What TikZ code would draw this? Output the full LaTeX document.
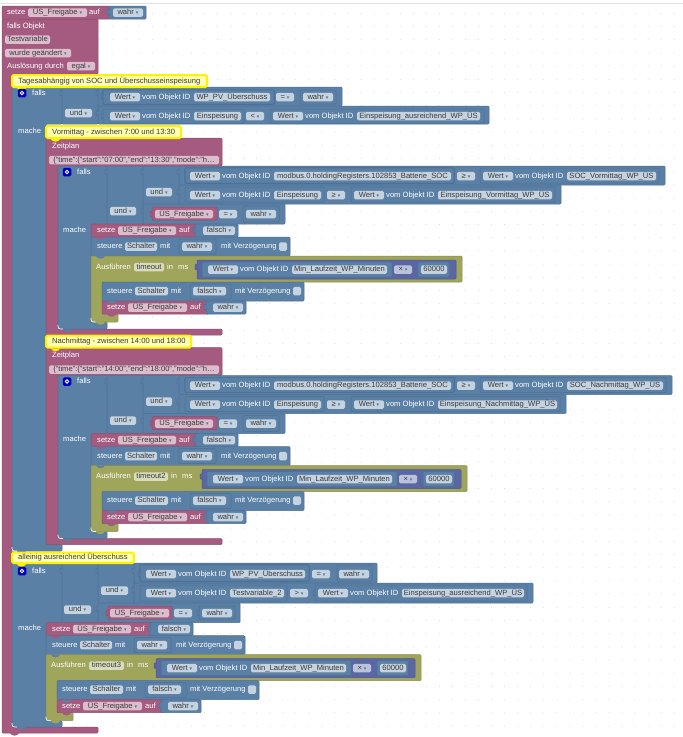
\documentclass[tikz,border=0pt]{standalone}
\usepackage{fontspec}
\setmainfont{Liberation Sans}
\newfontfamily\dropfont{DejaVu Sans}
\definecolor{blockblue}{HTML}{5B80A5}
\definecolor{lineblue}{HTML}{4C6F94}
\definecolor{chipblue}{HTML}{C5D2DF}
\definecolor{blockred}{HTML}{A55B80}
\definecolor{linered}{HTML}{8E4E6E}
\definecolor{chipred}{HTML}{DBBDCC}
\definecolor{blockolive}{HTML}{9FA55B}
\definecolor{lineolive}{HTML}{888E4E}
\definecolor{chipolive}{HTML}{D9DBBD}
\definecolor{blockpurple}{HTML}{5B67A5}
\definecolor{linepurple}{HTML}{4E588E}
\definecolor{chippurple}{HTML}{BDC2DB}
\definecolor{commentfill}{HTML}{FFFFB0}
\definecolor{chiptext}{HTML}{3A3A3A}
\tikzstyle{field} = [rounded corners=1.5pt, inner sep=0pt, minimum height=8.5pt,
    text=chiptext, text height=5.5pt, text depth=1.5pt]
\tikzstyle{fieldblue} = [field, fill=chipblue]
\tikzstyle{fieldred} = [field, fill=chipred]
\tikzstyle{fieldolive} = [field, fill=chipolive]
\tikzstyle{fieldpurple} = [field, fill=chippurple]
\tikzstyle{lab} = [anchor=west, inner sep=0pt, text=white, text height=5.5pt, text depth=1.5pt]
\tikzstyle{notelab} = [lab, text=chiptext]
\tikzstyle{bluebk} = [fill=blockblue, draw=lineblue, line width=.5pt, rounded corners=1pt]
\tikzstyle{redbk} = [fill=blockred, draw=linered, line width=.5pt, rounded corners=1pt]
\tikzstyle{olivebk} = [fill=blockolive, draw=lineolive, line width=.5pt, rounded corners=1pt]
\tikzstyle{purplebk} = [fill=blockpurple, draw=linepurple, line width=.5pt, rounded corners=1pt]
\tikzstyle{notebk} = [fill=commentfill, draw=yellow, line width=2pt, rounded corners=1.5pt]
\tikzstyle{gearbox} = [fill=blue!75!black, rounded corners=1.5pt, minimum size=8.5pt, inner sep=0pt]
\tikzstyle{corner} = [white, line width=.6pt]
\newcommand{\drop}{\kern2pt{\fontsize{5}{5}\dropfont\textcolor{lineblue}{▾}}}
\newcommand{\chip}[6][fieldblue]{\node [#1, minimum width={#4-(#3)}] (#2) at ({(#3+#4)/2},#5) {#6};}
\newcommand{\lab}[4]{\node [lab] (#1) at (#2,#3) {#4};}
\newcommand{\notch}[3]{\fill [#1] ({#2+5},#3) .. controls ({#2+6},{#3+3.5}) and ({#2+13},{#3+3.5}) .. ({#2+14},#3) -- cycle;}
\newcommand{\tab}[3][bluebk]{\draw [#1, rounded corners=0pt] (#2,{#3-3}) -- ++(-2,1) -- ++(0,4) -- ++(2,1);}
\newcommand{\corner}[2]{\draw [corner] (#1,{#2-4}) -- (#1,{#2-2.5}) .. controls (#1,{#2-1}) and ({#1+1},#2) .. ({#1+2.5},#2) -- ({#1+5},#2);}
\newcommand{\wertid}[5]{%
  \chip{#1wert}{#2}{#2+30}{#3}{Wert\drop}
  \lab{#1lab}{#2+32}{#3}{vom Objekt ID}
  \chip{#1id}{#2+84}{#5}{#3}{#4}}
\newcommand{\note}[6]{%
  \draw [notebk] (#2,#4) rectangle (#3,#5);
  \notch{yellow}{#2}{#5+1}
  \node [notelab] (#1) at ({#2+6},{(#4+#5)/2}) {#6};}
\newcommand{\gear}[3]{%
  \node [gearbox] (#1) at (#2,#3) {};
  \draw [white, line width=.9pt] (#1) circle (1.8pt);}
% Zeitplan block: comment, head and its bar
\newcommand{\zeitkopf}[4]{%
  \draw [redbk] (46,138) -- (222,138) -- (222,166) -- (58,166) -- (58,329) -- (222,329)
    -- (222,335) -- (46,335) -- cycle;
  \notch{blockblue}{58}{329}
  \note{#1note}{46}{#2}{126}{138}{#3}
  \lab{#1zeit}{52}{146}{Zeitplan}
  \chip[fieldred]{#1time}{49}{219}{160}{#4}}
% if block with the three conditions
\newcommand{\zeitbedingung}[5]{%
  \draw [bluebk] (58,166) -- (107,166) -- (107,224) -- (91,224) -- (91,322) -- (107,322)
    -- (107,329) -- (58,329) -- cycle;
  \corner{58}{329}
  \draw [bluebk] (107,166) rectangle (143,224);
  \draw [bluebk] (143,166) rectangle (179,204);
  \draw [bluebk] (179,166) rectangle ({#3+9},185);
  \draw [bluebk] (179,185) rectangle ({#5+9},204);
  \draw [bluebk] (143,204) rectangle (285,224);
  \gear{#1gear}{67}{172}
  \lab{#1falls}{77}{172}{falls}
  \lab{#1mache}{63}{230}{mache}
  \chip{#1undA}{110}{136}{211}{und\drop}
  \chip{#1undB}{146}{172}{192}{und\drop}
  \foreach \tx/\ty in {107/172,143/172,179/172,179/192,143/211,483/176,354/195}
    \tab{\tx}{\ty}
  \draw [bluebk] (185,168) rectangle (454,183);
  \wertid{#1a}{190}{176}{modbus.0.holdingRegisters.102853\_Batterie\_SOC}{451}
  \chip{#1geA}{457}{475}{176}{≥\drop}
  \draw [bluebk] (480,168) rectangle ({#3+3},183);
  \wertid{#1b}{483}{176}{#2}{#3}
  \draw [bluebk] (185,187) rectangle (324,202);
  \wertid{#1c}{190}{195}{Einspeisung}{321}
  \chip{#1geB}{327}{345}{195}{≥\drop}
  \draw [bluebk] (351,187) rectangle ({#5+3},202);
  \wertid{#1d}{354}{195}{#4}{#5}
  \tab[redbk]{152}{214}
  \draw [redbk] (152,207) rectangle (217,220);
  \chip[fieldred]{#1var}{155}{213}{214}{ÜS\_Freigabe\drop}
  \chip{#1eq}{219}{237}{214}{=\drop}
  \draw [bluebk] (243,206) rectangle (279,222);
  \chip{#1wahr}{246}{276}{214}{wahr\drop}}
% statements below mache
\newcommand{\zeitaktion}[4]{%
  \draw [redbk] (91,224) rectangle (198,237);
  \draw [bluebk] (195,224) rectangle (238,237);
  \tab{195}{230}
  \lab{#1setzeA}{97}{230.5}{setze}
  \chip[fieldred]{#1varA}{118}{176}{230.5}{ÜS\_Freigabe\drop}
  \lab{#1aufA}{179}{230.5}{auf}
  \chip{#1falschA}{203}{235}{230.5}{falsch\drop}
  \draw [bluebk] (91,237) rectangle (290,256);
  \notch{blockred}{91}{237}
  \draw [bluebk] (179,239) rectangle (216,254);
  \lab{#1steuerA}{97}{246.5}{steuere}
  \chip{#1schaltA}{125}{157}{246.5}{Schalter}
  \lab{#1mitA}{160}{246.5}{mit}
  \chip{#1wahrA}{182}{212}{246.5}{wahr\drop}
  \lab{#1verzA}{221}{246.5}{mit Verzögerung}
  \chip{#1checkA}{279}{287}{246.5}{}
  \draw [olivebk] (91,256) -- ({462+#4},256) -- ({462+#4},282) -- (102,282) -- (102,314)
    -- (118,314) -- (118,322) -- (91,322) -- cycle;
  \corner{91}{322}
  \notch{blockblue}{91}{256}
  \lab{#1aus}{96}{267}{Ausführen}
  \chip[fieldolive]{#1timeout}{134}{#3}{267}{#2}
  \lab{#1in}{#3+3}{267}{in}
  \lab{#1ms}{#3+14}{267}{ms}
  \draw [purplebk] ({197+#4},260) rectangle ({456+#4},279);
  \tab[purplebk]{197+#4}{267}
  \draw [bluebk] ({202+#4},262) rectangle ({392+#4},277);
  \wertid{#1m}{208+#4}{269.5}{Min\_Laufzeit\_WP\_Minuten}{387+#4}
  \chip[fieldpurple]{#1mal}{394+#4}{412+#4}{269.5}{×\drop}
  \draw [bluebk] ({418+#4},262) rectangle ({449+#4},277);
  \chip{#1zahl}{421+#4}{447+#4}{269.5}{60000}
  \draw [bluebk] (102,282) rectangle (304,301);
  \draw [bluebk] (190,284) rectangle (231,299);
  \lab{#1steuerB}{107}{291}{steuere}
  \chip{#1schaltB}{135}{168}{291}{Schalter}
  \lab{#1mitB}{171}{291}{mit}
  \chip{#1falschB}{193}{226}{291}{falsch\drop}
  \lab{#1verzB}{235}{291}{mit Verzögerung}
  \chip{#1checkB}{293}{301}{291}{}
  \draw [redbk] (102,301) rectangle (209,314);
  \draw [bluebk] (206,301) rectangle (246,314);
  \notch{blockblue}{102}{301}
  \notch{blockred}{102}{314}
  \lab{#1setzeB}{107}{307.5}{setze}
  \chip[fieldred]{#1varB}{128}{187}{307.5}{ÜS\_Freigabe\drop}
  \lab{#1aufB}{190}{307.5}{auf}
  \tab{206}{307}
  \chip{#1wahrB}{213}{243}{307.5}{wahr\drop}
  \notch{blockolive}{91}{322}}

\begin{document}
\begin{tikzpicture}[x=1pt,y=-1pt,font=\fontsize{7.6}{9}\selectfont]
	\useasboundingbox (0,0) rectangle (683,737);
	\fill [white] (0,0) rectangle (683,737);
	\draw [black!12, line width=.5pt] (0,3) -- (683,3);
	% workspace dots
	\foreach \i in {0,...,51}
	  \foreach \j in {0,...,54}
	    \fill [black!18] ({8.7+13.05*\i},{13.3+13.2*\j}) circle (.5);
	% trigger block
	\draw [redbk] (2,19) -- (98,19) -- (98,74) -- (12,74) -- (12,727) -- (98,727) -- (98,733)
	  -- (2,733) -- cycle;
	\notch{blockred}{5}{733}
	\draw [redbk] (2,6) rectangle (110,19);
	\draw [bluebk] (109,6) rectangle (146,19);
	\notch{blockred}{5}{19}
	\lab{setzeTop}{7}{12.5}{setze}
	\chip[fieldred]{varTop}{28}{87}{12.5}{ÜS\_Freigabe\drop}
	\lab{aufTop}{89}{12.5}{auf}
	\tab{109}{12}
	\chip{wahrTop}{113}{143}{12.5}{wahr\drop}
	\lab{fallsObjekt}{7}{26}{falls Objekt}
	\chip[fieldred]{testvar}{5}{50}{39.5}{Testvariable}
	\chip[fieldred]{geaendert}{5}{71}{53}{wurde geändert\drop}
	\lab{ausloesung}{7}{66}{Auslösung durch}
	\chip[fieldred]{egal}{67}{95}{66}{egal\drop}
	% first if
	\draw [bluebk] (12,87) -- (62,87) -- (62,124) -- (46,124) -- (46,544) -- (62,544)
	  -- (62,551) -- (12,551) -- cycle;
	\corner{12}{551}
	\notch{blockblue}{12}{551}
	\draw [bluebk] (62,87) rectangle (98,124);
	\draw [bluebk] (98,87) rectangle (342,106);
	\draw [bluebk] (98,106) rectangle (489,124);
	\note{noteTag}{12}{207}{75}{87}{Tagesabhängig von SOC und Überschusseinspeisung}
	\gear{gearTag}{22}{93}
	\lab{fallsTag}{32}{93}{falls}
	\lab{macheTag}{18}{131.5}{mache}
	\chip{undTag}{65}{92}{113}{und\drop}
	\foreach \tx/\ty in {62/93,98/93,98/113,103/96,103/116,273/116}
	  \tab{\tx}{\ty}
	\draw [bluebk] (103,90) rectangle (274,104);
	\wertid{tagA}{110}{97}{WP\_PV\_Überschuss}{270}
	\chip{eqTag}{276}{294}{97}{=\drop}
	\draw [bluebk] (300,90) rectangle (336,104);
	\chip{wahrTag}{303}{333}{97}{wahr\drop}
	\draw [bluebk] (103,109) rectangle (244,123);
	\wertid{tagB}{110}{116}{Einspeisung}{241}
	\chip{ltTag}{246}{264}{116}{<\drop}
	\draw [bluebk] (270,109) rectangle (484,123);
	\wertid{tagC}{273}{116}{Einspeisung\_ausreichend\_WP\_ÜS}{480}
	% Vormittag
	\zeitkopf{vor}{181}{Vormittag - zwischen 7:00 und 13:30}{\{"time":\{"start":"07:00","end":"13:30","mode":"h…}
	\zeitbedingung{vor}{SOC\_Vormittag\_WP\_ÜS}{656}{Einspeisung\_Vormittag\_WP\_ÜS}{552}
	\zeitaktion{vor}{timeout}{164}{0}
	% Nachmittag
	\begin{scope}[shift={(0,209.5)}]
	  \zeitkopf{nach}{191}{Nachmittag - zwischen 14:00 und 18:00}{\{"time":\{"start":"14:00","end":"18:00","mode":"h…}
	  \zeitbedingung{nach}{SOC\_Nachmittag\_WP\_ÜS}{663}{Einspeisung\_Nachmittag\_WP\_ÜS}{557}
	  \zeitaktion{nach}{timeout2}{168}{5}
	\end{scope}
	% second if
	\draw [bluebk] (12,563) -- (62,563) -- (62,622.7) -- (46,622.7) -- (46,721) -- (62,721)
	  -- (62,727) -- (12,727) -- cycle;
	\corner{12}{727}
	\notch{blockblue}{12}{727}
	\draw [bluebk] (62,563) rectangle (98,622.7);
	\draw [bluebk] (98,563) rectangle (134,603);
	\draw [bluebk] (134,563) rectangle (377,583);
	\draw [bluebk] (134,583) rectangle (533,603);
	\draw [bluebk] (98,603) rectangle (240,622.7);
	\note{noteUeber}{12}{134}{552.5}{563}{alleinig ausreichend Überschuss}
	\gear{gearUeber}{22}{571}
	\lab{fallsUeber}{32}{571}{falls}
	\lab{macheUeber}{18}{628}{mache}
	\chip{undUeberA}{64}{91}{609.5}{und\drop}
	\chip{undUeberB}{101}{128}{590.5}{und\drop}
	\foreach \tx/\ty in {62/571,98/571,134/571,134/590,98/609,140/574,315/593,199/613}
	  \tab{\tx}{\ty}
	\draw [bluebk] (140,565) rectangle (309,581);
	\wertid{ueA}{146}{574}{WP\_PV\_Überschuss}{305}
	\chip{eqUeA}{312}{330}{574}{=\drop}
	\draw [bluebk] (337,565) rectangle (372,581);
	\chip{wahrUeA}{339}{369}{574}{wahr\drop}
	\draw [bluebk] (140,585) rectangle (287,601);
	\wertid{ueB}{146}{593}{Testvariable\_2}{284}
	\chip{gtUe}{290}{308}{593}{>\drop}
	\draw [bluebk] (315,585) rectangle (527,601);
	\wertid{ueC}{318}{593}{Einspeisung\_ausreichend\_WP\_ÜS}{524}
	\tab[redbk]{108}{613}
	\draw [redbk] (108,606) rectangle (172,619);
	\chip[fieldred]{varUe}{110}{169}{613}{ÜS\_Freigabe\drop}
	\chip{eqUeB}{174}{192}{613}{=\drop}
	\draw [bluebk] (199,606) rectangle (235,619);
	\chip{wahrUeB}{202}{232}{613}{wahr\drop}
	\begin{scope}[shift={(-45,398.7)}]
	  \zeitaktion{ue}{timeout3}{169}{4}
	\end{scope}
\end{tikzpicture}
\end{document}
